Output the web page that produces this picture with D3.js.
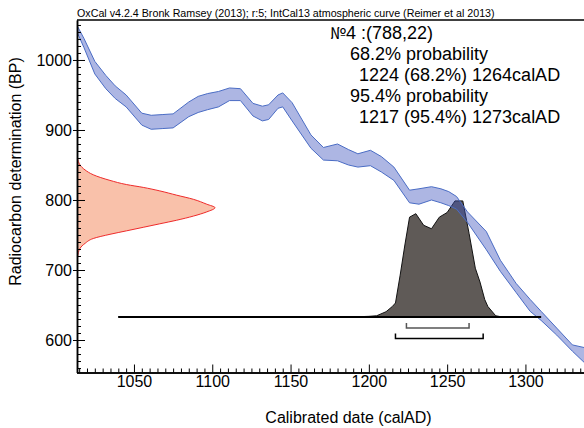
<!DOCTYPE html>
<html><head><meta charset="utf-8">
<script src="https://cdn.jsdelivr.net/npm/d3@7"></script>
<style>
html,body{margin:0;padding:0;background:#fff;}
svg{display:block;}
text{font-family:"Liberation Sans",Arial,sans-serif;}
</style></head>
<body>
<script>
// ---- data ----
const calYears   = [1013,1018,1025,1032,1038,1045,1055,1061,1068,1075,1085,1091,1097,1104,1111,1118,1126,1132,1136,1142,1145,1151,1163,1171,1180,1187,1193,1201,1208,1216,1226,1232,1240,1246,1251,1256,1263,1275,1284,1294,1303,1310,1320,1330,1338];
const curveUpper = [1052,1031,998,978,963,950,924,921,922,923,940,948,952,955,960,959,938,934,936,950,953,939,893,875,880,872,866,871,862,847,814,816,819,816,812,805,783,755,714,681,658,641,617,593,589];
const curveLower = [1043,1018,980,959,945,933,907,901,902,903,919,925,929,933,942,942,920,913,915,931,933,913,874,857,856,850,847,849,840,828,796,794,800,796,792,787,768,729,698,668,641,628,607,584,567];

const measBP      = [866,860,855,850,843,836,828,822,818,813,807,801,794,789,783,777,771,766,761,756,751,745,738,731,725,718,710];
const measDensity = [0,0.004,0.01,0.022,0.058,0.118,0.239,0.36,0.48,0.60,0.72,0.843,0.94,1,0.94,0.843,0.72,0.60,0.48,0.36,0.239,0.118,0.058,0.022,0.01,0.004,0];

const probYears  = [1040,1190,1200,1205,1211,1215,1217,1220,1223,1226,1230,1235,1240,1245,1250,1255,1260,1264,1268,1271,1274,1276,1281,1285,1310];
const probValues = [0,0,0.005,0.01,0.045,0.09,0.12,0.36,0.62,0.86,0.89,0.79,0.76,0.86,0.90,1.0,1.0,0.72,0.42,0.30,0.15,0.09,0.01,0,0];
const baselineBP = 633;

const range68 = [1224,1264];
const range95 = [1217,1273];

const xTicks = [1050,1100,1150,1200,1250,1300];
const yTicks = [600,700,800,900,1000];

const titleText = "OxCal v4.2.4 Bronk Ramsey (2013); r:5; IntCal13 atmospheric curve (Reimer et al 2013)";
const sampleMark = "\u2116";
const annotLines = ["4 :(788,22)","68.2% probability","1224 (68.2%) 1264calAD","95.4% probability","1217 (95.4%) 1273calAD"];
const xLabel = "Calibrated date (calAD)";
const yLabel = "Radiocarbon determination (BP)";

// ---- layout ----
const W = 584, H = 428;
const L = 77, T = 20, R = 584, B = 372.5;

const svg = d3.select("body").append("svg").attr("width",W).attr("height",H);
svg.append("rect").attr("width",W).attr("height",H).attr("fill","#fff");

const x = d3.scaleLinear().domain([1013.3,1337.4]).range([76.5,584]);
const y = d3.scaleLinear().domain([553.6,1057.1]).range([B,T]);
const dens = d3.scaleLinear().domain([0,1]).range([L,215]);
const probY = d3.scaleLinear().domain([0,1]).range([y(baselineBP), y(baselineBP)-116]);

svg.append("defs").append("clipPath").attr("id","clip")
  .append("rect").attr("x",L).attr("y",T).attr("width",R-L).attr("height",B-T);
const plot = svg.append("g").attr("clip-path","url(#clip)");

// measurement distribution (red, on y axis)
const meas = measBP.map((b,i)=>({b, d:measDensity[i]}));
plot.append("path").datum(meas)
  .attr("d", d3.area().y(d=>y(d.b)).x0(L).x1(d=>dens(d.d)).curve(d3.curveMonotoneY))
  .attr("fill","#f9c1aa").attr("stroke","none");
plot.append("path").datum(meas)
  .attr("d", d3.line().y(d=>y(d.b)).x(d=>dens(d.d)).curve(d3.curveMonotoneY))
  .attr("fill","none").attr("stroke","#ee2a2a").attr("stroke-width",1);

// calibrated probability (gray)
const prob = probYears.map((t,i)=>({t, p:probValues[i]}));
plot.append("path").datum(prob)
  .attr("d", d3.area().x(d=>x(d.t)).y0(probY(0)).y1(d=>probY(d.p)))
  .attr("fill","#5f5a57").attr("stroke","#111").attr("stroke-width",1);

// calibration curve band
const band = calYears.map((t,i)=>({t, u:curveUpper[i], l:curveLower[i]}));
plot.append("path").datum(band)
  .attr("d", d3.area().x(d=>x(d.t)).y0(d=>y(d.l)).y1(d=>y(d.u)))
  .attr("fill","rgba(60,82,188,0.42)").attr("stroke","none");
plot.append("path").datum(band)
  .attr("d", d3.line().x(d=>x(d.t)).y(d=>y(d.u)))
  .attr("fill","none").attr("stroke","#4a6cc4").attr("stroke-width",1);
plot.append("path").datum(band)
  .attr("d", d3.line().x(d=>x(d.t)).y(d=>y(d.l)))
  .attr("fill","none").attr("stroke","#4a6cc4").attr("stroke-width",1);

// baseline
plot.append("line")
  .attr("x1",x(probYears[0])).attr("x2",x(probYears[probYears.length-1]))
  .attr("y1",probY(0)).attr("y2",probY(0))
  .attr("stroke","#000").attr("stroke-width",2);

// range brackets
function bracket(r, dy, col){
  const yy = probY(0)+dy;
  plot.append("path")
    .attr("d", `M${x(r[0])},${yy-5}V${yy}H${x(r[1])}V${yy-5}`)
    .attr("fill","none").attr("stroke",col).attr("stroke-width",1.5);
}
bracket(range68, 11, "#555");
bracket(range95, 21.5, "#000");

// axes
const minorX = d3.range(1015,1340,5).filter(v=>v%50!==0);
const minorY = d3.range(560,1060,10).filter(v=>v%100!==0);

const gx = svg.append("g").attr("transform",`translate(0,${B})`);
gx.call(d3.axisBottom(x).tickValues(minorX).tickSize(-4).tickSizeOuter(0).tickFormat(""));
const gx2 = svg.append("g").attr("transform",`translate(0,${B})`);
gx2.call(d3.axisBottom(x).tickValues(xTicks).tickSize(-8).tickSizeOuter(0).tickPadding(3).tickFormat(d3.format("d")));

const gy = svg.append("g").attr("transform",`translate(${L},0)`);
gy.call(d3.axisLeft(y).tickValues(minorY).tickSize(-4).tickSizeOuter(0).tickFormat(""));
const gy2 = svg.append("g").attr("transform",`translate(${L},0)`);
gy2.call(d3.axisLeft(y).tickValues(yTicks).tickSize(-8).tickSizeOuter(0).tickPadding(5).tickFormat(d3.format("d")));
gy2.selectAll(".tick line").attr("x1",-4);

svg.selectAll(".domain").attr("stroke","#000").attr("stroke-width",1.5);
svg.selectAll(".tick line").attr("stroke","#000").attr("stroke-width",1);
svg.selectAll(".tick text").attr("font-size",16).attr("font-family","'Liberation Sans',Arial,sans-serif").attr("fill","#000");
gx2.selectAll(".tick text").attr("dy","0.71em");

// top border
svg.append("line").attr("x1",L).attr("x2",R).attr("y1",T).attr("y2",T)
  .attr("stroke","#000").attr("stroke-width",1.5);

// title
svg.append("text").attr("x",77).attr("y",17).attr("font-size",10.7).text(titleText);

// annotation
const ax = [330,350,359,350,359];
const ay = [39,60,81,102,123];
annotLines.forEach((s,i)=>{
  const t = svg.append("text").attr("x",ax[i]).attr("y",ay[i]).attr("font-size",18).attr("fill","#000");
  if(i===0){
    t.append("tspan").attr("font-family","'Noto Sans CJK JP',sans-serif").attr("font-size",16).text(sampleMark);
    t.append("tspan").text(s);
  } else t.text(s);
});

// axis labels
svg.append("text").attr("x",348.5).attr("y",423).attr("text-anchor","middle")
  .attr("font-size",16).text(xLabel);
svg.append("text").attr("transform","translate(20.5,171.5) rotate(-90)").attr("text-anchor","middle")
  .attr("font-size",16).text(yLabel);
</script>
</body></html>
